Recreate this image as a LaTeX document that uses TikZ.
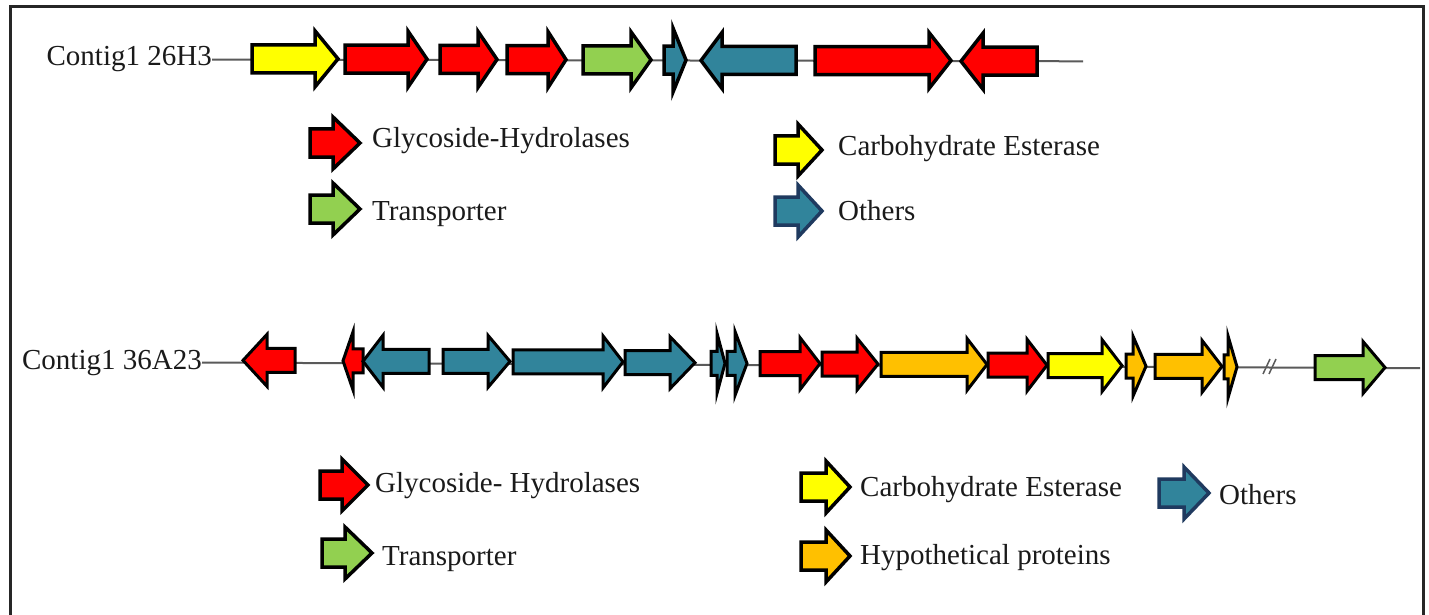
\documentclass[tikz,border=0pt]{standalone}
\usepackage{fontspec}
\setmainfont{Liberation Serif}
\definecolor{ghred}{HTML}{FF0000}
\definecolor{ceyel}{HTML}{FFFF00}
\definecolor{trgrn}{HTML}{92D050}
\definecolor{otteal}{HTML}{31849B}
\definecolor{hyorg}{HTML}{FFC000}
\definecolor{otline}{HTML}{1F3A5F}
\definecolor{axisgray}{HTML}{5A5A5A}
\definecolor{txtcol}{HTML}{1A1A1A}
\newcommand\rowA{59}
\newcommand\rowS{0.003}
\newcommand\rowX{300}
\newcommand\bh{14}
\newcommand\genearrow[5]{%
  \pgfmathsetmacro\yc{\rowA+\rowS*(#1-\rowX)}%
  \draw[genestyle,fill=#4] (#1,\yc-\bh) -- (#2,\yc-\bh) -- (#2,\yc-#5) -- (#3,\yc) -- (#2,\yc+#5) -- (#2,\yc+\bh) -- (#1,\yc+\bh) -- cycle;}
\newcommand\legarrow[6]{%
  \draw[legstyle,fill=#5,draw=#6] (#1,#4-14) -- (#2,#4-14) -- (#2,#4-26) -- (#3,#4) -- (#2,#4+26) -- (#2,#4+14) -- (#1,#4+14) -- cycle;}
\tikzset{
  genestyle/.style={draw=black,line width=3.5pt,line join=miter,miter limit=10},
  legstyle/.style={line width=3.5pt,line join=miter,miter limit=10},
  lbl/.style={inner sep=0pt,text=txtcol,font=\fontsize{29}{34}\selectfont},
  axisline/.style={draw=axisgray,line width=2pt},
  frame/.style={draw=black!85,line width=3pt}
}
\begin{document}
\begin{tikzpicture}[x=1pt,y=-1pt]
\useasboundingbox (0,0) rectangle (1429,615);
\clip (0,0) rectangle (1429,615);
\fill[white] (0,0) rectangle (1429,615);
\draw[frame] (10,650) -- (10,7) -- (1423,7) -- (1423,650);

% ---------- Contig1 26H3 ----------
\node[lbl,anchor=base east] (c1) at (212,66) {Contig1 26H3};
\coordinate (c1end) at (1083,61.3);
\draw[axisline] (c1.east) -- (c1end);
\renewcommand\rowA{59}\renewcommand\rowS{0.003}\renewcommand\rowX{300}
\renewcommand\bh{14}
\tikzset{genestyle/.append style={line width=3.5pt}}
\genearrow{252}{315}{338}{ceyel}{28}
\genearrow{345}{408}{427}{ghred}{28}
\genearrow{440}{478}{497}{ghred}{28}
\genearrow{507}{548}{566}{ghred}{28}
\genearrow{583}{631}{651}{trgrn}{28}
\genearrow{664}{673}{686}{otteal}{32}
\genearrow{796}{722}{701}{otteal}{28}
\genearrow{815}{929}{951}{ghred}{28}
\genearrow{1037}{983}{961}{ghred}{28}

% ---------- Legend 1 ----------
\legarrow{310}{333}{360}{143}{ghred}{black}
\node[lbl,anchor=base west] (l1a) at (372,147) {Glycoside-Hydrolases};
\legarrow{310}{333}{360}{209}{trgrn}{black}
\node[lbl,anchor=base west] (l1b) at (372,220) {Transporter};
\legarrow{775}{798}{822}{150}{ceyel}{black}
\node[lbl,anchor=base west] (l1c) at (838,155) {Carbohydrate Esterase};
\legarrow{775}{798}{822}{211}{otteal}{otline}
\node[lbl,anchor=base west] (l1d) at (838,220) {Others};

% ---------- Contig1 36A23 ----------
\node[lbl,anchor=base east] (c2) at (202,369) {Contig1 36A23};
\coordinate (c2end) at (1420,368.2);
\draw[axisline] (c2.east) -- (c2end);
\coordinate (brk1a) at (1263,374); \coordinate (brk1b) at (1270,359);
\coordinate (brk2a) at (1269,374); \coordinate (brk2b) at (1276,359);
\draw[axisline,line width=1.5pt] (brk1a) -- (brk1b);
\draw[axisline,line width=1.5pt] (brk2a) -- (brk2b);
\renewcommand\rowA{360}\renewcommand\rowS{0.007}\renewcommand\rowX{243}
\renewcommand\bh{12}
\tikzset{genestyle/.append style={line width=3pt}}
\genearrow{295}{267}{243}{ghred}{26}
\genearrow{363}{353}{343}{ghred}{29}
\genearrow{429}{383}{363}{otteal}{26}
\genearrow{443}{488}{510}{otteal}{26}
\genearrow{513}{603}{623}{otteal}{26}
\genearrow{625}{670}{695}{otteal}{26}
\genearrow{711}{717}{725}{otteal}{30}
\genearrow{727}{735}{747}{otteal}{32}
\genearrow{760}{800}{820}{ghred}{26}
\genearrow{822}{857}{878}{ghred}{26}
\genearrow{881}{967}{987}{hyorg}{26}
\genearrow{988}{1027}{1047}{ghred}{26}
\genearrow{1048}{1102}{1122}{ceyel}{26}
\genearrow{1126}{1133}{1146}{hyorg}{30}
\genearrow{1155}{1202}{1222}{hyorg}{26}
\genearrow{1224}{1228}{1237}{hyorg}{31}
\genearrow{1315}{1363}{1385}{trgrn}{26}

% ---------- Legend 2 ----------
\legarrow{320}{342}{368}{485}{ghred}{black}
\node[lbl,anchor=base west] (l2a) at (375,492) {Glycoside- Hydrolases};
\legarrow{322}{345}{372}{553}{trgrn}{black}
\node[lbl,anchor=base west] (l2b) at (382,565) {Transporter};
\legarrow{801}{826}{850}{487}{ceyel}{black}
\node[lbl,anchor=base west] (l2c) at (860,496) {Carbohydrate Esterase};
\legarrow{801}{826}{850}{556}{hyorg}{black}
\node[lbl,anchor=base west] (l2d) at (860,564) {Hypothetical proteins};
\legarrow{1159}{1184}{1209}{493}{otteal}{otline}
\node[lbl,anchor=base west] (l2e) at (1219,504) {Others};
\end{tikzpicture}
\end{document}
